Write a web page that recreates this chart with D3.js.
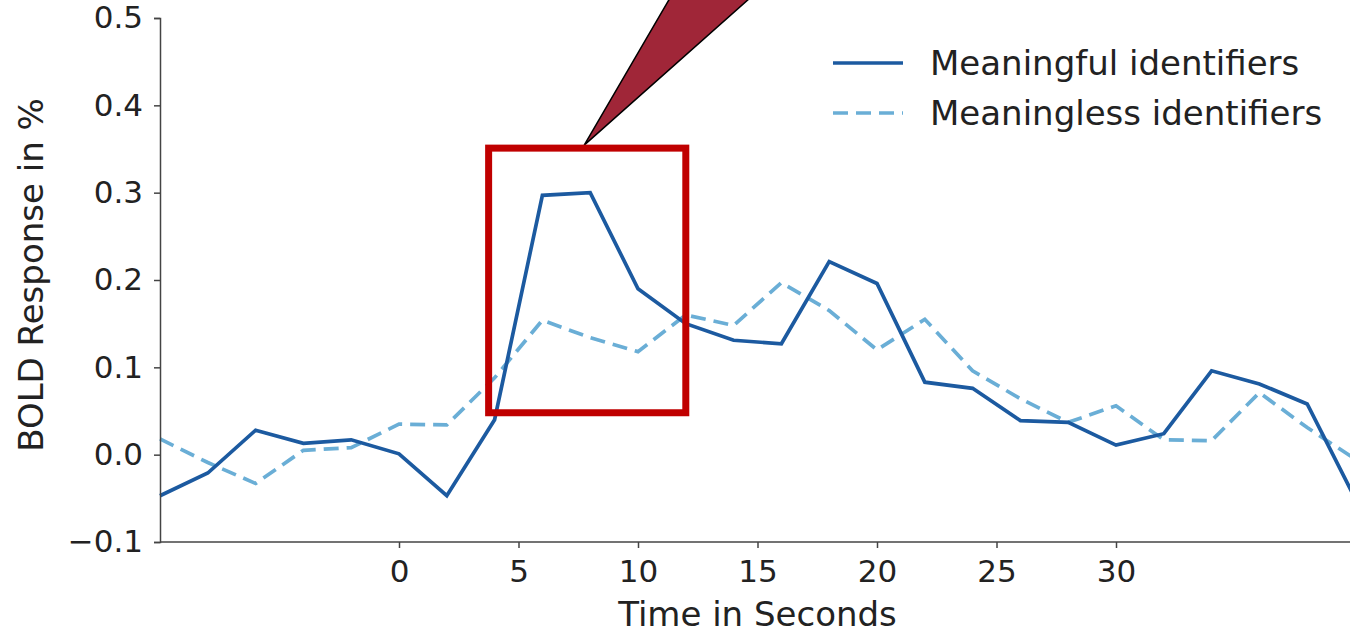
<!DOCTYPE html>
<meta charset="utf-8">
<script src="https://cdn.jsdelivr.net/npm/d3@7"></script>
<style>
  body { margin: 0; background: #fff; }
  text { font-family: "DejaVu Sans", sans-serif; fill: #222; }
</style>
<body>
<script>

var width = 1350
var height = 633

// time points (seconds)
var times = [-10, -8, -6, -4, -2, 0, 2, 4, 6, 8, 10, 12, 14, 16, 18, 20, 22, 24, 26, 28, 30, 32, 34, 36, 38, 40]
var meaningful = [-0.047, -0.021, 0.028, 0.013, 0.017, 0.001, -0.047, 0.040, 0.297, 0.300, 0.190, 0.150, 0.131, 0.127, 0.221, 0.196, 0.083, 0.076, 0.039, 0.037, 0.011, 0.024, 0.096, 0.081, 0.058, -0.050]
var meaningless = [0.018, -0.009, -0.033, 0.005, 0.008, 0.035, 0.034, 0.088, 0.154, 0.134, 0.118, 0.160, 0.148, 0.197, 0.165, 0.120, 0.155, 0.096, 0.064, 0.037, 0.056, 0.017, 0.016, 0.071, 0.031, -0.005]
var xTicks = [0, 5, 10, 15, 20, 25, 30]
var yTicks = [-0.1, 0.0, 0.1, 0.2, 0.3, 0.4, 0.5]
var seriesNames = ["Meaningful identifiers", "Meaningless identifiers"]
// highlight box in data units: [x0, x1, y0, y1]
var box = [3.75, 12.0, 0.048, 0.351]

var x = d3.scaleLinear().domain([-10, 40]).range([160, 1355])
var y = d3.scaleLinear().domain([-0.1, 0.5]).range([542, 18])

var svg = d3.select("body").append("svg")
            .attr("width", width)
            .attr("height", height)

var line = d3.line()
    .x(function(d, i) { return x(times[i]) })
    .y(function(d) { return y(d) })

svg.append("path")
   .attr("d", line(meaningless))
   .attr("fill", "none")
   .attr("stroke", "#6aaed6")
   .attr("stroke-width", 3.7)
   .attr("stroke-dasharray", "15,8")

svg.append("path")
   .attr("d", line(meaningful))
   .attr("fill", "none")
   .attr("stroke", "#1c5aa0")
   .attr("stroke-width", 3.7)

// axes
var xAxis = svg.append("g")
    .attr("transform", "translate(0," + y(-0.1) + ")")
    .call(d3.axisBottom(x).tickValues(xTicks).tickSize(6).tickPadding(12).tickFormat(d3.format("d")))
var yAxis = svg.append("g")
    .attr("transform", "translate(" + x(-10) + ",0)")
    .call(d3.axisLeft(y).tickValues(yTicks).tickSize(6).tickPadding(11)
          .tickFormat(function(d) { return d3.format(".1f")(d).replace("-", "\u2212") }))

;[xAxis, yAxis].forEach(function(a) {
  a.select(".domain").attr("stroke", "#444").attr("stroke-width", 1.5)
  a.selectAll(".tick line").attr("stroke", "#444").attr("stroke-width", 1.5)
  a.selectAll(".tick text").style("font-size", "31px").style("font-family", "DejaVu Sans").attr("fill", "#222")
})
xAxis.select(".domain").attr("d", "M160,0H1355")

svg.append("text")
   .attr("x", x(15))
   .attr("y", 626)
   .style("text-anchor", "middle")
   .style("font-size", "34px")
   .text("Time in Seconds")

svg.append("text")
   .attr("transform", "translate(43," + (y(0.2) - 5) + ") rotate(-90)")
   .style("text-anchor", "middle")
   .style("font-size", "34px")
   .text("BOLD Response in %")

// legend
var legend = svg.append("g").attr("transform", "translate(833,63)")
seriesNames.forEach(function(name, i) {
  var g = legend.append("g").attr("transform", "translate(0," + (i * 50) + ")")
  g.append("line").attr("x1", 0).attr("x2", 70).attr("y1", 0).attr("y2", 0)
   .attr("stroke", i == 0 ? "#1c5aa0" : "#6aaed6")
   .attr("stroke-width", 3.7)
   .attr("stroke-dasharray", i == 0 ? null : "15,8")
  g.append("text").attr("x", 97).attr("y", 12)
   .style("font-size", "34px")
   .text(name)
})

// callout wedge
var apex = [x((box[0] + box[1]) / 2) - 3, y(box[3]) - 3]
svg.append("path")
   .attr("d", "M" + apex[0] + "," + apex[1] + "L670,-2L750,-2Z")
   .attr("fill", "#a02638")
   .attr("stroke", "#000")
   .attr("stroke-width", 1.5)

// highlight box
svg.append("rect")
   .attr("x", x(box[0]))
   .attr("y", y(box[3]))
   .attr("width", x(box[1]) - x(box[0]))
   .attr("height", y(box[2]) - y(box[3]))
   .attr("fill", "none")
   .attr("stroke", "#c00000")
   .attr("stroke-width", 7)

</script>
</body>
